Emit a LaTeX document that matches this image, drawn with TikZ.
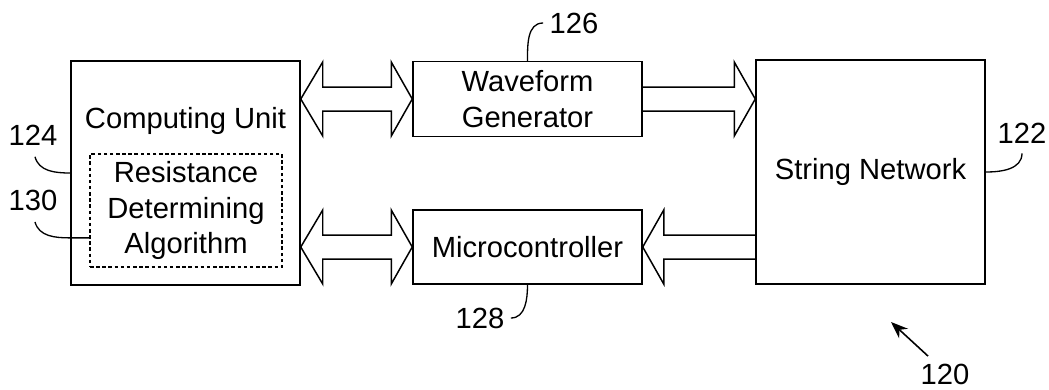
\documentclass[tikz,border=0pt]{standalone}
\usepackage{fontspec}
\setmainfont{Liberation Sans}
\usepackage{tikz}
\usetikzlibrary{arrows.meta, calc, positioning}

\begin{document}
\begin{tikzpicture}[font=\fontsize{16.6}{20.3}\selectfont, line width=0.85pt,
    block/.style={draw, rectangle, minimum width=4.58cm, align=center, inner sep=0pt},
    leader/.style={line width=0.75pt}]
\useasboundingbox (0,0) rectangle (20.98,7.78);

\begin{scope}[every node/.append style={block}]
    \node[minimum height=4.48cm] (CU) at (3.71, 4.32) {};
    \node[minimum height=1.5cm] (WG) at (10.55, 5.80) {Waveform\\Generator};
    \node[minimum height=1.48cm] (MC) at (10.55, 2.84) {Microcontroller};
    \node[minimum height=4.48cm] (SN) at (17.41, 4.34) {String Network};
\end{scope}
\node (CUtxt) at ($(CU.north)+(0,-1.22)$) {Computing Unit};
\node[draw, dash pattern=on 2pt off 1.5pt, line width=0.6pt, minimum width=3.84cm,
      minimum height=2.26cm, align=center, inner sep=0pt] (RDA) at (3.72, 3.57)
      {Resistance\\Determining\\Algorithm};

% block arrows
\coordinate (a1) at (CU.east |- WG.west);
\coordinate (a2) at (CU.east |- MC.west);
\coordinate (a3) at (SN.west |- WG.east);
\coordinate (a4) at (SN.west |- MC.east);
\draw (a1) -- ($(a1)+(0.44,0.74)$) -- ($(a1)+(0.44,0.24)$) -- ($(WG.west)+(-0.42,0.24)$)
    -- ($(WG.west)+(-0.42,0.74)$) -- (WG.west) -- ($(WG.west)+(-0.42,-0.74)$)
    -- ($(WG.west)+(-0.42,-0.24)$) -- ($(a1)+(0.44,-0.24)$) -- ($(a1)+(0.44,-0.74)$) -- cycle;
\draw (a2) -- ($(a2)+(0.44,0.74)$) -- ($(a2)+(0.44,0.24)$) -- ($(MC.west)+(-0.42,0.24)$)
    -- ($(MC.west)+(-0.42,0.74)$) -- (MC.west) -- ($(MC.west)+(-0.42,-0.74)$)
    -- ($(MC.west)+(-0.42,-0.24)$) -- ($(a2)+(0.44,-0.24)$) -- ($(a2)+(0.44,-0.74)$) -- cycle;
\draw ($(WG.east)+(0,0.24)$) -- ($(a3)+(-0.42,0.24)$) -- ($(a3)+(-0.42,0.74)$) -- (a3)
    -- ($(a3)+(-0.42,-0.74)$) -- ($(a3)+(-0.42,-0.24)$) -- ($(WG.east)+(0,-0.24)$);
\draw ($(a4)+(0,0.24)$) -- ($(MC.east)+(0.42,0.24)$) -- ($(MC.east)+(0.42,0.74)$) -- (MC.east)
    -- ($(MC.east)+(0.42,-0.74)$) -- ($(MC.east)+(0.42,-0.24)$) -- ($(a4)+(0,-0.24)$);

% reference numerals
\node (L124) at (0.66, 5.08) {124};
\node (L130) at (0.66, 3.78) {130};
\node (L126) at (11.48, 7.32) {126};
\node (L128) at (9.60, 1.42) {128};
\node (L122) at (20.44, 5.12) {122};
\node (L120) at (18.9, 0.30) {120};

\coordinate (p130) at ($(RDA.south west)!0.26!(RDA.north west)$);
\coordinate (P120) at (17.82, 1.34);
\draw[leader] ($(L124.south)+(0.04,-0.1)$) to[out=-75, in=180] (CU.west);
\draw[leader] ($(L130.south)+(0.04,-0.1)$) to[out=-75, in=180] (CU.west |- p130) -- (p130);
\draw[leader] (WG.north) to[out=90, in=180] (L126.west);
\draw[leader] (MC.south) to[out=-90, in=0] (L128.east);
\draw[leader] (SN.east) to[out=0, in=-90] ($(L122.south)+(0,-0.07)$);
\draw[-{Stealth[length=3.4mm, width=2.6mm]}, line width=0.9pt] ($(L120.north)+(-0.34,0.02)$) -- (P120);
\end{tikzpicture}
\end{document}
